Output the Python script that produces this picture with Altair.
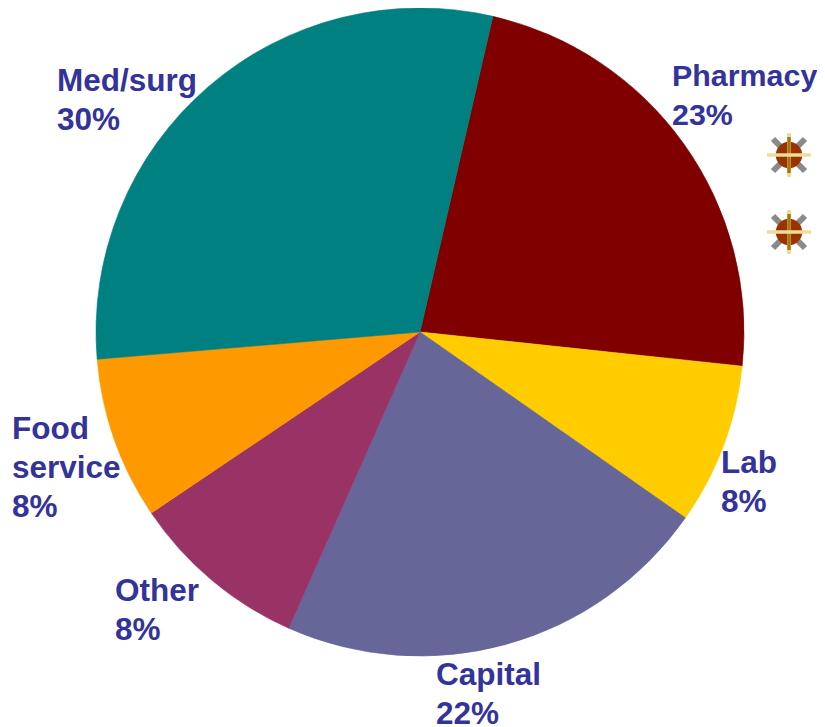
import math
import altair as alt
import pandas as pd

names = ["Pharmacy", "Lab", "Capital", "Other", "Food\nservice", "Med/surg"]
shares = [23.07, 8.04, 21.92, 8.92, 8.1, 29.95]
share_labels = ["23%", "8%", "22%", "8%", "8%", "30%"]
colors = ["#800000", "#FFCC00", "#666699", "#993366", "#FF9900", "#008080"]
order = [0, 1, 2, 3, 4, 5]

START = math.radians(13.0)
CX, CY, R = 412, 324, 324
label_pos = [(664, 78), (713, 465), (428, 677), (107, 593), (4, 431), (49, 83)]
label_size = [30.4, 31.5, 31.5, 31.5, 31.5, 31.5]
star_pos = [(781, 147), (781, 224)]

df = pd.DataFrame({"name": names, "share": shares, "idx": order})
df["label"] = [f"{n}\n{s}" for n, s in zip(names, share_labels)]

color_scale = alt.Scale(domain=names, range=colors)
pie = alt.Chart(df).mark_arc(outerRadius=R, innerRadius=0, strokeWidth=0.6).encode(
    theta=alt.Theta("share:Q", stack=True,
                    scale=alt.Scale(domain=[0, 100], range=[START, START + 2 * math.pi])),
    order=alt.Order("idx:Q"),
    color=alt.Color("name:N", legend=None, scale=color_scale),
    stroke=alt.Stroke("name:N", legend=None, scale=color_scale),
    x=alt.value(CX),
    y=alt.value(CY),
)

layers = [pie]
for row, (lx, ly), fs in zip(df.to_dict("records"), label_pos, label_size):
    layers.append(
        alt.Chart(pd.DataFrame([row])).mark_text(
            align="left", baseline="alphabetic", lineBreak="\n", lineHeight=39,
            font="Liberation Sans", fontWeight="bold", fontSize=fs, color="#333399",
        ).encode(text="label:N", x=alt.value(lx), y=alt.value(ly))
    )

star_df = pd.DataFrame({"star": ["a"]})
for sx, sy in star_pos:
    base = alt.Chart(star_df).encode(x=alt.value(sx), y=alt.value(sy))
    layers += [
        base.mark_point(shape="M-.8,-.8L.8,.8M-.8,.8L.8,-.8", size=1600, filled=False,
                        stroke="#8A8A8A", strokeWidth=6, opacity=1),
        base.mark_point(shape="circle", size=700, filled=True, fill="#993300", opacity=1, strokeWidth=0),
        base.mark_point(shape="M0,-1L0,1", size=1936, filled=False,
                        stroke="#F0DC9A", strokeWidth=4, opacity=1),
        base.mark_point(shape="M0,-1L0,1", size=1300, filled=False,
                        stroke="#A8740F", strokeWidth=3.5, opacity=1),
        base.mark_point(shape="M-1,0L1,0", size=1936, filled=False,
                        stroke="#F0DC9A", strokeWidth=3.5, opacity=1),
    ]

chart = alt.layer(*layers).properties(
    width=809, height=719, padding=0,
    autosize=alt.AutoSizeParams(type="none"),
).configure_view(stroke=None)

chart.save("out.html", embed_options={"renderer": "svg", "actions": False})
